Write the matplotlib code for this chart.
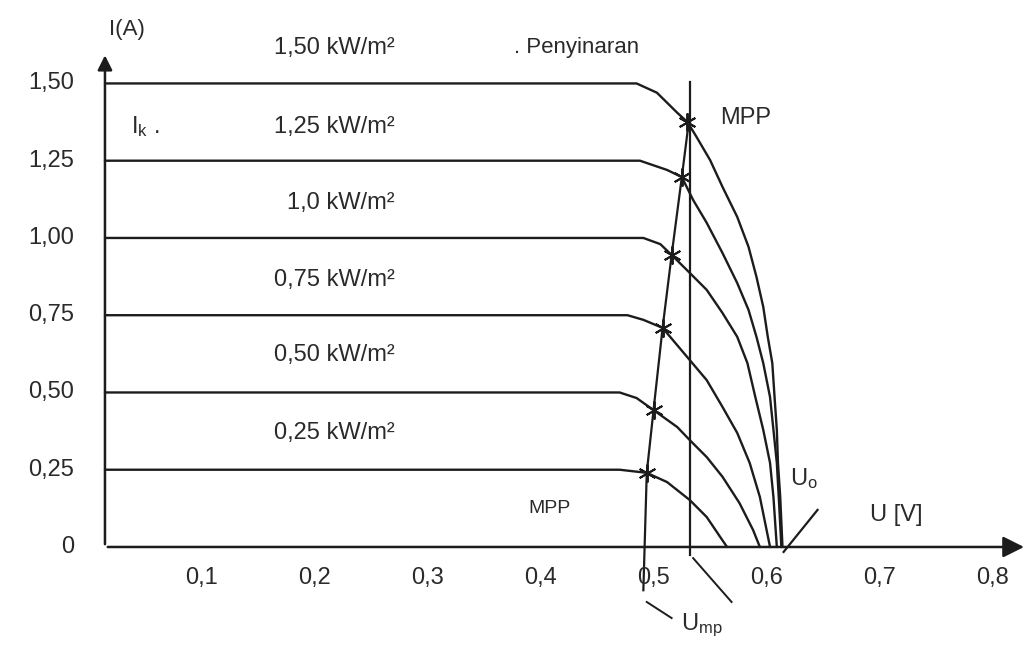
import matplotlib
matplotlib.use("Agg")
import matplotlib.pyplot as plt

plt.rcParams.update({
    "font.family": ["Liberation Sans", "DejaVu Sans"],
    "font.size": 17,
    "mathtext.fontset": "custom",
    "mathtext.rm": "Liberation Sans",
    "mathtext.it": "Liberation Sans",
})

INK = "#1c1c1c"
TXT = "#2a2a2a"

# --- I-U curves (U in V, I in A) ---
irradiance = ["1,50", "1,25", "1,0", "0,75", "0,50", "0,25"]

u_150 = [0, 0.470, 0.488, 0.506, 0.515, 0.523, 0.535, 0.546, 0.559, 0.569, 0.576,
         0.582, 0.586, 0.590, 0.592, 0.594, 0.595, 0.597, 0.599]
i_150 = [1.50, 1.50, 1.47, 1.405, 1.375, 1.327, 1.252, 1.165, 1.068, 0.971, 0.874,
         0.777, 0.680, 0.595, 0.485, 0.379, 0.272, 0.162, 0]

u_125 = [0, 0.473, 0.497, 0.510, 0.520, 0.532, 0.546, 0.559, 0.569, 0.576, 0.582,
         0.588, 0.591, 0.594, 0.596, 0.598]
i_125 = [1.25, 1.25, 1.22, 1.197, 1.123, 1.049, 0.951, 0.854, 0.767, 0.680, 0.595,
         0.485, 0.379, 0.272, 0.142, 0]

u_100 = [0, 0.476, 0.491, 0.501, 0.517, 0.532, 0.546, 0.559, 0.568, 0.575, 0.582,
         0.588, 0.591, 0.594]
i_100 = [1.00, 1.00, 0.98, 0.945, 0.887, 0.832, 0.757, 0.680, 0.595, 0.485, 0.379,
         0.272, 0.162, 0]

u_075 = [0, 0.462, 0.476, 0.493, 0.517, 0.532, 0.546, 0.559, 0.570, 0.579, 0.588]
i_075 = [0.75, 0.75, 0.735, 0.709, 0.605, 0.540, 0.453, 0.369, 0.272, 0.162, 0]

u_050 = [0, 0.455, 0.470, 0.485, 0.506, 0.517, 0.532, 0.546, 0.561, 0.573, 0.579]
i_050 = [0.50, 0.50, 0.482, 0.443, 0.388, 0.346, 0.291, 0.227, 0.142, 0.055, 0]

u_025 = [0, 0.455, 0.479, 0.497, 0.517, 0.532, 0.544, 0.550]
i_025 = [0.25, 0.25, 0.24, 0.21, 0.152, 0.097, 0.032, 0]

curves = [(u_150, i_150), (u_125, i_125), (u_100, i_100),
          (u_075, i_075), (u_050, i_050), (u_025, i_025)]

# maximum power points and their locus
mpp_u = [0.515, 0.510, 0.501, 0.493, 0.485, 0.479]
mpp_i = [1.375, 1.197, 0.945, 0.709, 0.443, 0.240]
locus_u = [0.476, 0.479, 0.485, 0.493, 0.501, 0.510, 0.517]
locus_i = [-0.14, 0.240, 0.443, 0.709, 0.945, 1.197, 1.40]

u_ticks = [0.1, 0.2, 0.3, 0.4, 0.5, 0.6, 0.7, 0.8]
u_labels = ["0,1", "0,2", "0,3", "0,4", "0,5", "0,6", "0,7", "0,8"]
i_ticks = [0, 0.25, 0.50, 0.75, 1.00, 1.25, 1.50]
i_labels = ["0", "0,25", "0,50", "0,75", "1,00", "1,25", "1,50"]

label_i = [1.615, 1.359, 1.113, 0.864, 0.621, 0.369]

fig = plt.figure(figsize=(10.32, 6.46), dpi=100)
ax = fig.add_axes([0, 0, 1, 1])
ax.set_xlim(-0.0928, 0.8196)
ax.set_ylim(-0.3204, 1.770)
ax.axis("off")

# axes with arrows
ax.annotate("", xy=(0.815, 0), xytext=(0, 0),
            arrowprops=dict(arrowstyle="-|>", mutation_scale=32, lw=1.8, color=INK))
ax.annotate("", xy=(0, 1.60), xytext=(0, 0),
            arrowprops=dict(arrowstyle="-|>", mutation_scale=22, lw=1.8, color=INK))

for (u, i) in curves:
    ax.plot(u, i, color=INK, lw=1.7, solid_joinstyle="round", solid_capstyle="round")

ax.plot(locus_u, locus_i, color=INK, lw=1.6, solid_joinstyle="round")
ax.plot([0.517, 0.517], [-0.025, 1.505], color=INK, lw=1.6)
ax.plot(mpp_u, mpp_i, ls="none", marker=(6, 2, 0), ms=13, mew=1.4, color=INK)

# tick labels
for v, s in zip(u_ticks, u_labels):
    ax.text(v - 0.015, -0.10, s, ha="center", va="center", color=TXT)
for v, s in zip(i_ticks, i_labels):
    ax.text(-0.027, v, s, ha="right", va="center", color=TXT)

# irradiance labels
for s, y in zip(irradiance, label_i):
    ax.text(0.256, y, s + " kW/m²", ha="right", va="center", color=TXT)
ax.text(0.362, 1.615, ". Penyinaran", ha="left", va="center", color=TXT, fontsize=16)

ax.text(0.019, 1.675, "I(A)", ha="center", va="center", color=TXT, fontsize=16)
ax.text(0.023, 1.36, r"I$_{\rm k}$ .", ha="left", va="center", color=TXT)
ax.text(0.544, 1.388, "MPP", ha="left", va="center", color=TXT)
ax.text(0.374, 0.126, "MPP", ha="left", va="center", color=TXT, fontsize=14)
ax.text(0.606, 0.22, r"U$_{\rm o}$", ha="left", va="center", color=TXT)
ax.text(0.676, 0.104, "U [V]", ha="left", va="center", color=TXT)
ax.text(0.509, -0.255, r"U$_{\rm mp}$", ha="left", va="center", color=TXT)

# leader lines
ax.plot([0.630, 0.600], [0.12, -0.016], color=INK, lw=1.6)
ax.plot([0.479, 0.501], [-0.178, -0.230], color=INK, lw=1.4)
ax.plot([0.520, 0.554], [-0.036, -0.178], color=INK, lw=1.4)

fig.savefig("out.png", dpi=100, facecolor="white")
